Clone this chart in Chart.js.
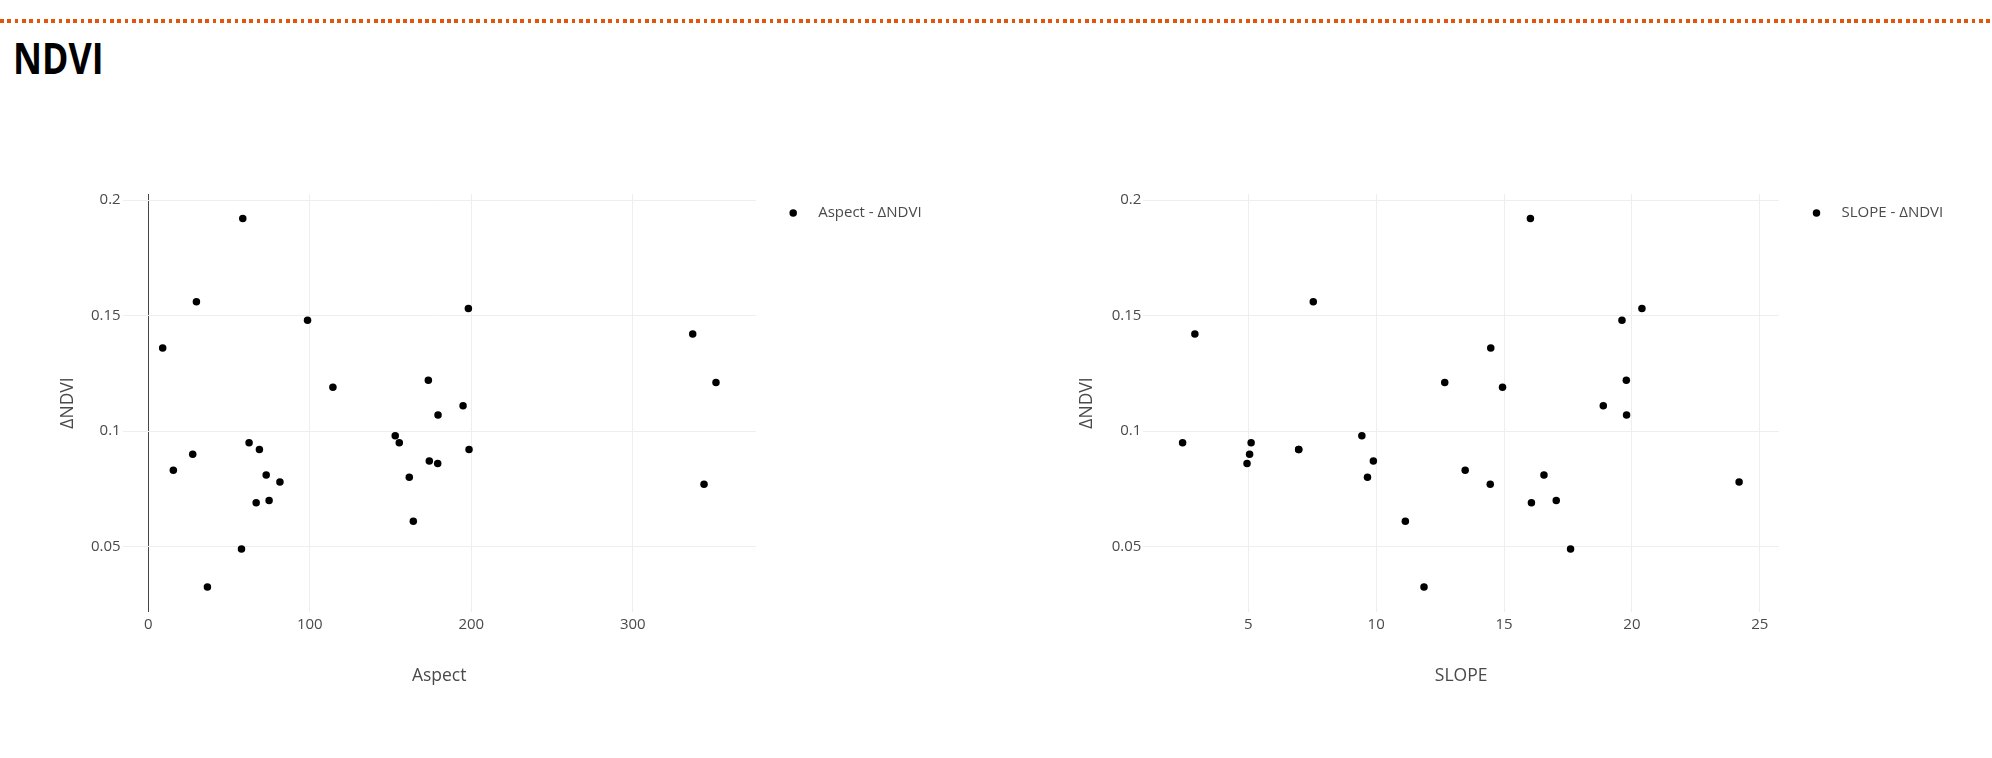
<!DOCTYPE html>
<html>
<head>
<meta charset="utf-8">
<script src="https://cdn.jsdelivr.net/npm/chart.js@4.4.1/dist/chart.umd.min.js"></script>
<style>
  html, body { margin: 0; padding: 0; background: #fff; }
  body { width: 1992px; height: 758px; position: relative; overflow: hidden; font-family: "Open Sans", sans-serif; }
  .rule {
    position: absolute; left: 0; top: 19.3px; width: 1992px; height: 3.8px;
    background: repeating-linear-gradient(to right, #e2560c 0px, #e2560c 3.7px, transparent 3.7px, transparent 7.33px);
  }
  h1 {
    position: absolute; left: 12.5px; top: 35.8px; margin: 0;
    font: 700 43px/1 "Open Sans", sans-serif; color: #000;
    transform: scaleX(0.83); transform-origin: 0 0;
  }
  canvas { position: absolute; top: 0; }
  #aspectChart { left: 0; }
  #slopeChart { left: 996px; }
</style>
</head>
<body>
<div class="rule"></div>
<h1>NDVI</h1>
<canvas id="aspectChart" width="996" height="758"></canvas>
<canvas id="slopeChart" width="996" height="758"></canvas>
<script>
// Per-site values: terrain aspect (degrees), slope (degrees) and change in NDVI
const dndvi  = [0.136, 0.156, 0.192, 0.148, 0.119, 0.153, 0.122, 0.107, 0.111, 0.098,
                0.083, 0.090, 0.0325, 0.049, 0.095, 0.095, 0.092, 0.092, 0.069, 0.081,
                0.070, 0.078, 0.080, 0.061, 0.087, 0.086, 0.142, 0.121, 0.077];
const aspect = [8.9, 29.8, 58.5, 98.6, 114.3, 198.2, 173.4, 179.4, 194.9, 152.9,
                15.5, 27.5, 36.6, 57.7, 62.4, 155.4, 68.8, 198.6, 66.8, 73.0,
                74.8, 81.5, 161.6, 164.1, 174.0, 179.2, 337.1, 351.5, 344.1];
const slope  = [14.48, 7.54, 16.03, 19.61, 14.94, 20.39, 19.78, 19.79, 18.88, 9.44,
                13.48, 5.05, 11.87, 17.60, 2.43, 5.11, 6.97, 6.97, 16.07, 16.56,
                17.04, 24.19, 9.66, 11.14, 9.89, 4.95, 2.91, 12.68, 14.46];

// Tick values for each axis
const dndviTicks  = [0.05, 0.1, 0.15, 0.2];
const aspectTicks = [0, 100, 200, 300];
const slopeTicks  = [5, 10, 15, 20, 25];

Chart.defaults.font.family = "'Open Sans', sans-serif";
Chart.defaults.color = '#4a4a4a';

const PAGE_H = 758;
const PLOT_TOP = 194;
const PLOT_BOTTOM = 612;
const TEXT_COLOR = '#4a4a4a';

// Legend drawn to the right of the plot area, one row per dataset
const sideLegend = {
  id: 'sideLegend',
  afterDraw(chart) {
    const {ctx, chartArea} = chart;
    chart.data.datasets.forEach((ds, i) => {
      const y = chartArea.top + 19 + i * 24;
      const x = chartArea.right + 37.5;
      ctx.save();
      ctx.beginPath();
      ctx.arc(x, y, 3.75, 0, Math.PI * 2);
      ctx.fillStyle = ds.backgroundColor;
      ctx.fill();
      ctx.font = "15px 'Open Sans', sans-serif";
      ctx.fillStyle = TEXT_COLOR;
      ctx.textBaseline = 'middle';
      ctx.textAlign = 'left';
      ctx.fillText(ds.label, x + 25, y);
      ctx.restore();
    });
  }
};

function makeChart(id, xs, label, xTitle, xTicks, xMin, xMax, plotLeft, plotRight, yTitleCenter) {
  const points = xs.map((x, i) => ({x, y: dndvi[i]}));
  return new Chart(document.getElementById(id), {
    type: 'scatter',
    data: {
      datasets: [{
        label,
        data: points,
        backgroundColor: '#000',
        borderWidth: 0,
        pointRadius: 3.75,
        pointHoverRadius: 3.75
      }]
    },
    options: {
      responsive: false,
      animation: false,
      events: [],
      layout: { padding: { left: 0, top: PLOT_TOP, right: 996 - plotRight, bottom: 0 } },
      plugins: { legend: { display: false }, tooltip: { enabled: false } },
      scales: {
        x: {
          type: 'linear',
          min: xMin, max: xMax,
          afterFit: s => { s.height = PAGE_H - PLOT_BOTTOM; },
          afterBuildTicks: s => { s.ticks = xTicks.map(v => ({value: v})); },
          border: { display: false },
          grid: {
            drawTicks: false,
            lineWidth: 1,
            color: c => (c.tick && c.tick.value === 0) ? '#444' : '#eee'
          },
          ticks: { padding: 3.5, font: { size: 15 }, color: TEXT_COLOR, callback: v => String(v) },
          title: { display: true, text: xTitle, font: { size: 17.5 }, color: TEXT_COLOR, padding: { top: 0, bottom: 71.5 } }
        },
        y: {
          type: 'linear',
          min: 0.0217, max: 0.2026,
          afterFit: s => { s.width = plotLeft; },
          afterBuildTicks: s => { s.ticks = dndviTicks.map(v => ({value: v})); },
          border: { display: false },
          grid: { drawTicks: false, lineWidth: 1, color: '#eee' },
          ticks: { padding: 2, font: { size: 15 }, color: TEXT_COLOR, callback: v => String(v) },
          title: { display: true, text: 'ΔNDVI', font: { size: 17.5 }, color: TEXT_COLOR, padding: { top: yTitleCenter - 10.5, bottom: 0 } }
        }
      }
    },
    plugins: [sideLegend]
  });
}

makeChart('aspectChart', aspect, 'Aspect - ΔNDVI', 'Aspect', aspectTicks, -15.85, 376.1, 122.7, 755.7, 68.3);
makeChart('slopeChart', slope, 'SLOPE - ΔNDVI', 'SLOPE', slopeTicks, 0.894, 25.75, 147.3, 783, 91.5);
</script>
</body>
</html>
